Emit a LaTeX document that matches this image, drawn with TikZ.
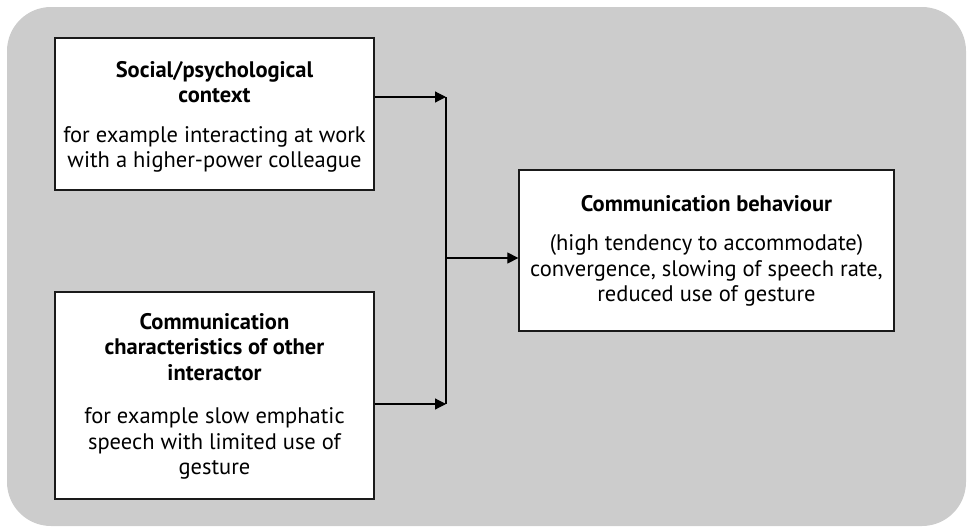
\documentclass[tikz,border=0pt]{standalone}
\usepackage{fontspec}
\setmainfont{PT Sans}
\usetikzlibrary{arrows.meta}
\definecolor{panelgrey}{HTML}{CCCCCC}
\definecolor{edgegrey}{HTML}{1A1A1A}
\tikzset{
  panel/.style={fill=panelgrey, draw=none, rounded corners=44pt},
  infobox/.style={draw=edgegrey, line width=1.3pt, fill=white, inner sep=0pt},
  boxtext/.style={align=center, inner sep=0pt, font=\fontsize{22.5}{25.5}\selectfont},
  link/.style={draw=black, line width=1.2pt},
  feed/.style={link, -{Triangle[length=11pt,width=11pt]}},
}
\newcommand{\hd}[1]{\textbf{#1}}
\begin{document}
\begin{tikzpicture}[x=1pt,y=-1pt]
  \useasboundingbox (0,0) rectangle (970,528);
  \fill[panel] (7,7) rectangle (966,526);

  % input boxes
  \node[infobox, minimum width=319pt, minimum height=152pt] (ctx) at (214.5,114) {};
  \node[boxtext] (ctxt) at (214.5,117)
    {\hd{Social/psychological}\\\hd{context}\\[14pt]
     for example interacting at work\\with a higher-power colleague};

  \node[infobox, minimum width=319pt, minimum height=207pt] (oth) at (214.5,395.5) {};
  \node[boxtext] (otht) at (214.5,396.5)
    {\hd{Communication}\\\hd{characteristics of other}\\\hd{interactor}\\[18pt]
     for example slow emphatic\\speech with limited use of\\gesture};

  % outcome box
  \node[infobox, minimum width=375pt, minimum height=161pt] (beh) at (706.5,250.5) {};
  \node[boxtext] (beht) at (706.5,251)
    {\hd{Communication behaviour}\\[14pt]
     (high tendency to accommodate)\\convergence, slowing of speech rate,\\reduced use of gesture};

  % junction points on the collecting line
  \coordinate (j1) at (446,97);
  \coordinate (j2) at (446,404);
  \coordinate (j3) at (446,258);

  \draw[link] (j1) -- (j2);
  \draw[feed] (ctx.east |- j1) -- (j1);
  \draw[feed] (oth.east |- j2) -- (j2);
  \draw[feed] (j3) -- (beh.west |- j3);
\end{tikzpicture}
\end{document}
